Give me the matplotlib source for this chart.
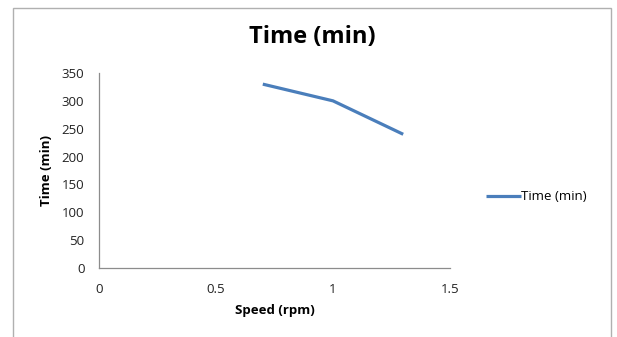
import matplotlib
matplotlib.use("Agg")
import matplotlib.pyplot as plt
from matplotlib.patches import Rectangle

speed = [0.7, 1.0, 1.3]
time_min = [330, 300, 240]
x_ticks = [0, 0.5, 1, 1.5]
x_tick_labels = ["0", "0.5", "1", "1.5"]
y_ticks = [0, 50, 100, 150, 200, 250, 300, 350]
series_name = "Time (min)"

plt.rcParams['font.family'] = ['Open Sans', 'DejaVu Sans']

fig = plt.figure(figsize=(6.17, 3.37), dpi=100)
fig.patch.set_facecolor('white')
fig.patches.append(Rectangle((13/617, -0.1), (611-13)/617, 1 - 7.5/337 + 0.1,
                             transform=fig.transFigure, fill=False,
                             edgecolor='#b0b0b0', linewidth=1.0))

ax = fig.add_axes([99/617, 1-268/337, (450-99)/617, (268-73)/337])
ax.plot(speed, time_min, color='#4a7ebb', linewidth=2.3, label=series_name,
        solid_capstyle='butt')
ax.set_xlim(0, 1.5)
ax.set_ylim(0, 350)
ax.set_xticks(x_ticks)
ax.set_xticklabels(x_tick_labels)
ax.set_yticks(y_ticks)
for s in ['top', 'right']:
    ax.spines[s].set_visible(False)
for s in ['left', 'bottom']:
    ax.spines[s].set_color('#8c8c8c')
    ax.spines[s].set_linewidth(0.9)
ax.tick_params(length=0, labelsize=9.5, colors='#222222')
ax.tick_params(axis='x', pad=10.5)
ax.tick_params(axis='y', pad=10.5)

ax.set_xlabel("Speed (rpm)", fontsize=9.5, fontweight='bold', labelpad=6)
ax.set_ylabel("Time (min)", fontsize=9.5, fontweight='bold', labelpad=6)

fig.text(312/617, 1-37/337, "Time (min)", ha='center', va='center',
         fontsize=17, fontweight='bold')

leg = fig.legend(loc='center left', bbox_to_anchor=(481/617, 1-197/337),
                 frameon=False, fontsize=9.5, handlelength=2.6, handletextpad=0.05,
                 borderaxespad=0)

fig.savefig("out.png", dpi=100)
